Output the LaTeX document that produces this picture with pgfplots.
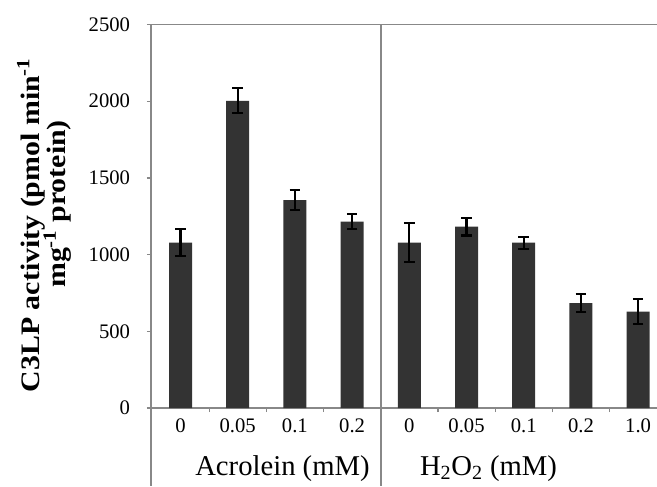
\documentclass[border=0pt]{standalone}
\usepackage{pgfplots}
\pgfplotsset{compat=1.18}
\usepackage{fontspec}
\setmainfont{Liberation Serif}
\usepackage{graphicx}
\definecolor{axgray}{HTML}{888888}
\definecolor{barc}{HTML}{333333}
\pgfplotstableread{
x y e
0 1078 88
1 2003 81
2 1356 66
3 1215 49
4 1078 126
5 1182 57
6 1078 39
7 683 58
8 628 80
}\datatable
\begin{document}
\begin{tikzpicture}
\begin{axis}[
 at={(0,0)}, anchor=south west,
 scale only axis, width=379.5pt, height=287.6pt,
 xmin=-0.516, xmax=8.33, ymin=0, ymax=2500,
 axis lines*=left,
 axis line style={axgray, line width=1.2pt},
 clip=false,
 ybar, bar width=17.25pt,
 ytick={0,500,...,2500},
 xtick={0.5,1.5,2.5,3.5,4.5,5.5,6.5,7.5},
 xticklabels={},
 tick align=outside,
 major tick length=3pt,
 tick style={axgray, line width=0.9pt},
 extra x ticks={0,1,2,3,4,5,6,7,8},
 extra x tick labels={0,0.05,0.1,0.2,0,0.05,0.1,0.2,1.0},
 extra x tick style={major tick length=0pt, tick style={draw=none}},
 /pgf/number format/assume math mode=true,
 /pgf/number format/1000 sep={},
 xticklabel style={font=\fontsize{15.5}{16}\selectfont, anchor=base, yshift=-18pt},
 yticklabel style={font=\fontsize{15.5}{16}\selectfont, anchor=east, inner sep=0pt, xshift=-12.5pt},
]
\addplot[fill=barc, draw=none,
  error bars/.cd, y dir=both, y explicit,
  error bar style={black, line width=1.6pt},
  error mark options={black, line width=1.6pt, mark size=4pt, rotate=90}]
  table[x=x, y=y, y error=e]{\datatable};
\draw[axgray, line width=1.2pt] (rel axis cs:0,1) -- (rel axis cs:1,1);
\draw[axgray, line width=1.2pt] (axis cs:-0.516,0) -- (axis cs:-0.516,-508.5);
\draw[axgray, line width=1.2pt] (axis cs:3.5,2500) -- (axis cs:3.5,-508.5);
\end{axis}
\node[rotate=90, anchor=center, inner sep=0pt] at (-90pt,137.25pt)
  {\fontsize{20}{22}\selectfont\bfseries\scalebox{1.12}[1]{C3LP activity (pmol min\textsuperscript{-1}}};
\node[rotate=90, anchor=center, inner sep=0pt] at (-70pt,153pt)
  {\fontsize{20}{22}\selectfont\bfseries\scalebox{1.12}[1]{mg\textsuperscript{-1} protein)}};
\node[anchor=base, inner sep=0pt] at (98.6pt,-50.25pt)
  {\fontsize{21.5}{22}\selectfont Acrolein (mM)};
\node[anchor=base, inner sep=0pt] at (253.1pt,-50.25pt)
  {\fontsize{21.5}{22}\selectfont H\textsubscript{2}O\textsubscript{2} (mM)};
\pgfresetboundingbox
\useasboundingbox (-113.25pt,-58.5pt) rectangle (379.5pt,306pt);
\end{tikzpicture}
\end{document}
